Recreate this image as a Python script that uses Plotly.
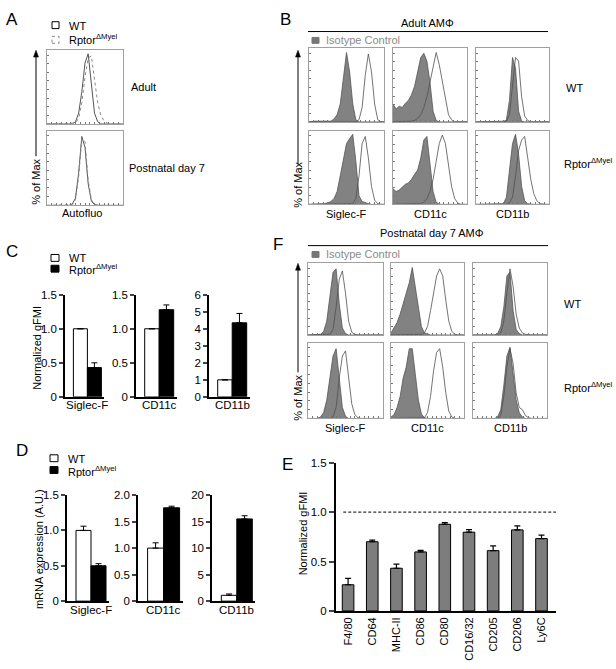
import plotly.graph_objects as go

W, H = 616, 669

# ---------------- DATA ----------------
BINS = list(range(25))  # histogram bin index (log-fluorescence scale)

# Panel A: autofluorescence histograms (% of max)
A_adult_wt = [0,0,0,0,0,0,0,0,0,3,15,45,85,98,60,15,3,0,0,0,0,0,0,0,0]
A_adult_ko = [0,0,0,0,0,0,0,0,0,1,8,30,65,92,95,60,30,12,4,1,0,0,0,0,0]
A_p7_wt    = [0,0,0,0,0,0,0,0,2,10,45,95,80,30,6,1,0,0,0,0,0,0,0,0,0]
A_p7_ko    = [0,0,0,0,0,0,0,0,1,8,40,92,88,35,8,1,0,0,0,0,0,0,0,0,0]

# Panel B: adult AM (isotype = filled, antibody = open)
B_wt_sig_iso = [0,1,1,1,1,0,0,1,4,10,25,60,97,70,25,3,0,0,0,0,0,0,0,0,0]
B_wt_sig_ab  = [0,0,0,0,0,0,0,0,0,0,0,0,0,0,0,0,3,20,65,95,70,25,3,0,0]
B_wt_11c_iso = [25,18,22,20,26,30,38,50,70,90,96,85,55,15,2,0,0,0,0,0,0,0,0,0,0]
B_wt_11c_ab  = [0,0,0,0,0,0,1,2,5,10,20,35,55,80,97,80,55,30,10,3,0,0,0,0,0]
B_wt_11b_iso = [0,0,0,0,0,0,0,0,0,0,3,30,90,75,15,1,0,0,0,0,0,0,0,0,0]
B_wt_11b_ab  = [0,0,0,0,0,0,0,0,0,0,1,10,55,90,85,35,8,2,0,0,0,0,0,0,0]
B_ko_sig_iso = [0,0,1,1,0,1,2,4,8,18,40,62,85,92,98,60,12,4,2,1,0,0,0,0,0]
B_ko_sig_ab  = [0,0,0,0,0,0,0,0,0,0,0,0,0,0,1,8,40,85,95,65,25,6,1,0,0]
B_ko_11c_iso = [22,18,20,24,28,30,35,42,48,65,90,95,60,18,3,0,0,0,0,0,0,0,0,0,0]
B_ko_11c_ab  = [0,0,0,0,0,0,0,0,0,1,3,8,18,35,60,85,97,85,55,25,8,2,0,0,0]
B_ko_11b_iso = [0,0,0,0,0,0,0,0,0,1,10,45,85,98,70,25,5,1,0,0,0,0,0,0,0]
B_ko_11b_ab  = [0,0,0,0,0,0,0,0,0,0,0,2,10,40,75,90,95,65,35,15,5,1,0,0,0]

# Panel F: postnatal day 7 AM
F_wt_sig_iso = [0,0,0,0,1,5,20,55,90,95,45,10,2,0,0,0,0,0,0,0,0,0,0,0,0]
F_wt_sig_ab  = [0,0,0,0,0,0,0,1,8,40,80,92,60,20,4,1,0,0,0,0,0,0,0,0,0]
F_wt_11c_iso = [3,10,18,30,45,58,75,97,70,40,12,3,1,0,0,0,0,0,0,0,0,0,0,0,0]
F_wt_11c_ab  = [0,0,0,0,0,0,0,0,0,0,1,3,12,35,60,85,95,85,50,20,5,1,0,0,0]
F_wt_11b_iso = [0,0,0,0,0,0,0,0,2,12,40,85,90,35,8,2,0,0,0,0,0,0,0,0,0]
F_wt_11b_ab  = [0,0,0,0,0,0,0,0,0,3,20,60,95,70,30,10,3,1,0,0,0,0,0,0,0]
F_ko_sig_iso = [0,0,0,0,2,8,25,55,85,95,55,15,3,0,0,0,0,0,0,0,0,0,0,0,0]
F_ko_sig_ab  = [0,0,0,0,0,0,0,0,2,15,55,85,92,55,20,5,1,0,0,0,0,0,0,0,0]
F_ko_11c_iso = [2,5,15,30,55,70,95,95,60,25,6,1,0,0,0,0,0,0,0,0,0,0,0,0,0]
F_ko_11c_ab  = [0,0,0,0,0,0,0,0,0,0,0,1,8,30,65,90,95,70,35,10,2,0,0,0,0]
F_ko_11b_iso = [0,0,0,0,0,0,0,0,2,12,45,85,97,60,25,8,2,0,0,0,0,0,0,0,0]
F_ko_11b_ab  = [0,0,0,0,0,0,0,0,0,5,30,70,95,75,35,15,12,4,1,0,0,0,0,0,0]

# Panel C: normalized gFMI
C_markers = ["Siglec-F", "CD11c", "CD11b"]
C_wt      = [1.0, 1.0, 1.0]
C_wt_err  = [0.0, 0.0, 0.0]
C_ko      = [0.43, 1.28, 4.35]
C_ko_err  = [0.07, 0.07, 0.55]

# Panel D: mRNA expression
D_markers = ["Siglec-F", "CD11c", "CD11b"]
D_wt      = [1.0, 1.0, 1.1]
D_wt_err  = [0.06, 0.10, 0.25]
D_ko      = [0.50, 1.76, 15.5]
D_ko_err  = [0.03, 0.03, 0.6]

# Panel E: normalized gFMI, postnatal day 7
E_markers = ["F4/80", "CD64", "MHC-II", "CD86", "CD80", "CD16/32", "CD205", "CD206", "Ly6C"]
E_vals    = [0.265, 0.70, 0.432, 0.597, 0.877, 0.797, 0.61, 0.82, 0.732]
E_err     = [0.065, 0.016, 0.042, 0.016, 0.017, 0.026, 0.048, 0.04, 0.036]

# ---------------- FIGURE ----------------
FS = 11
KO_LABEL = 'Rptor<sup>ΔMyel</sup>'

def px(x): return x / W
def py(y): return 1 - y / H

fig = go.Figure()
layout = dict(width=W, height=H, margin=dict(l=0, r=0, t=0, b=0),
              paper_bgcolor='white', plot_bgcolor='rgba(0,0,0,0)', showlegend=False,
              font=dict(family='Arial, Liberation Sans, sans-serif', size=FS, color='black'))
annotations, shapes = [], []
counter = [0]

def new_axes(x0, x1, y0, y1, xo, yo):
    counter[0] += 1
    n = counter[0]
    sx = '' if n == 1 else str(n)
    layout['xaxis' + sx] = dict(domain=[px(x0), px(x1)], anchor='y' + sx, **xo)
    layout['yaxis' + sx] = dict(domain=[py(y1), py(y0)], anchor='x' + sx, **yo)
    return 'x' + sx, 'y' + sx

def text(x, y, s, size=FS, xa='center', ya='middle', color='black', angle=0):
    annotations.append(dict(x=px(x), y=py(y), xref='paper', yref='paper', text=s,
                            showarrow=False, font=dict(size=size, color=color),
                            xanchor=xa, yanchor=ya, textangle=angle, borderpad=0))

def arrow(x, ytip, ytail):
    shapes.append(dict(type='line', xref='paper', yref='paper', x0=px(x), x1=px(x),
                       y0=py(ytail), y1=py(ytip + 5), line=dict(color='black', width=1)))
    path = 'M {:.5f} {:.5f} L {:.5f} {:.5f} L {:.5f} {:.5f} Z'.format(
        px(x - 2.5), py(ytip + 7), px(x), py(ytip), px(x + 2.5), py(ytip + 7))
    shapes.append(dict(type='path', xref='paper', yref='paper', path=path,
                       fillcolor='black', line=dict(color='black', width=0.5)))

def rect(x0, y0, x1, y1, fill='white', line='black', dash='solid', lw=1):
    shapes.append(dict(type='rect', xref='paper', yref='paper', x0=px(x0), x1=px(x1),
                       y0=py(y1), y1=py(y0), fillcolor=fill,
                       line=dict(color=line, width=lw, dash=dash)))

def hline(x0, x1, y, lw=1):
    shapes.append(dict(type='line', xref='paper', yref='paper', x0=px(x0), x1=px(x1),
                       y0=py(y), y1=py(y), line=dict(color='black', width=lw)))

HX = dict(range=[0, 24], showline=True, mirror=True, linecolor='#a0a0a0', linewidth=1,
          ticks='inside', ticklen=2, tickcolor='#777', dtick=1.5, showticklabels=False,
          showgrid=False, zeroline=False, fixedrange=True)
HY = dict(range=[0, 103], showline=True, mirror=True, linecolor='#a0a0a0', linewidth=1,
          ticks='inside', ticklen=2, tickcolor='#777', dtick=12, showticklabels=False,
          showgrid=False, zeroline=False, fixedrange=True)

def flow_panel(x0, x1, y0, y1, iso, ab):
    xr, yr = new_axes(x0, x1, y0, y1, HX, HY)
    fig.add_trace(go.Scatter(x=BINS, y=iso, xaxis=xr, yaxis=yr, mode='lines',
                             line=dict(color='#555', width=0.8), fill='tozeroy',
                             fillcolor='#828282', hoverinfo='skip'))
    fig.add_trace(go.Scatter(x=BINS, y=ab, xaxis=xr, yaxis=yr, mode='lines',
                             line=dict(color='#505050', width=0.8), hoverinfo='skip'))

# ---- Panel A
for (y0, y1), wt, ko in [((45, 120), A_adult_wt, A_adult_ko), ((127, 203), A_p7_wt, A_p7_ko)]:
    xr, yr = new_axes(47, 123, y0, y1, HX, HY)
    fig.add_trace(go.Scatter(x=BINS, y=wt, xaxis=xr, yaxis=yr, mode='lines',
                             line=dict(color='#555', width=1), hoverinfo='skip'))
    fig.add_trace(go.Scatter(x=BINS, y=ko, xaxis=xr, yaxis=yr, mode='lines',
                             line=dict(color='#888', width=1, dash='dot'), hoverinfo='skip'))
text(12, 14, 'A', size=17)
rect(52, 16, 59, 23)
text(68, 20, 'WT', xa='left')
rect(52, 31, 59, 38, line='#888', dash='dot')
text(68, 34, KO_LABEL, xa='left')
text(130, 82, 'Adult', xa='left')
text(128, 165, 'Postnatal day 7', xa='left')
text(82, 211, 'Autofluo')
text(36, 179, '% of Max', angle=-90)
arrow(36, 45, 153)

# ---- Panel B
B_cols = [(309, 384), (393, 467), (476, 549)]
B_rows = [(43, 118), (127, 202)]
B_data = [[(B_wt_sig_iso, B_wt_sig_ab), (B_wt_11c_iso, B_wt_11c_ab), (B_wt_11b_iso, B_wt_11b_ab)],
          [(B_ko_sig_iso, B_ko_sig_ab), (B_ko_11c_iso, B_ko_11c_ab), (B_ko_11b_iso, B_ko_11b_ab)]]
for ri, (y0, y1) in enumerate(B_rows):
    for ci, (x0, x1) in enumerate(B_cols):
        flow_panel(x0, x1, y0, y1, *B_data[ri][ci])
text(285, 14, 'B', size=17)
text(427, 17, 'Adult AMΦ')
hline(308, 548, 26)
rect(312, 32, 319, 38, fill='#777', line='#777')
text(325, 35, 'Isotype Control', xa='left', color='#8a8a8a')
for (x0, x1), lab in zip(B_cols, ['Siglec-F', 'CD11c', 'CD11b']):
    text((x0 + x1) / 2, 212, lab)
text(565, 83, 'WT', xa='left')
text(563, 160, KO_LABEL, xa='left')
text(298, 182, '% of Max', angle=-90)
arrow(298, 45, 161)

# ---- Panel F
F_cols = [(308, 383), (391, 464), (473, 547)]
F_rows = [(262, 335), (343, 420)]
F_data = [[(F_wt_sig_iso, F_wt_sig_ab), (F_wt_11c_iso, F_wt_11c_ab), (F_wt_11b_iso, F_wt_11b_ab)],
          [(F_ko_sig_iso, F_ko_sig_ab), (F_ko_11c_iso, F_ko_11c_ab), (F_ko_11b_iso, F_ko_11b_ab)]]
for ri, (y0, y1) in enumerate(F_rows):
    for ci, (x0, x1) in enumerate(F_cols):
        flow_panel(x0, x1, y0, y1, *F_data[ri][ci])
text(278, 243, 'F', size=17)
text(432, 231, 'Postnatal day 7 AMΦ')
hline(308, 548, 244)
rect(312, 250, 319, 256, fill='#777', line='#777')
text(325, 253, 'Isotype Control', xa='left', color='#8a8a8a')
for (x0, x1), lab in zip(F_cols, ['Siglec-F', 'CD11c', 'CD11b']):
    text((x0 + x1) / 2, 430, lab)
text(563, 303, 'WT', xa='left')
text(563, 388, KO_LABEL, xa='left')
text(298, 399, '% of Max', angle=-90)
arrow(298, 262, 373)

# ---- Bar panels C and D
def bar_panel(axx, bw, ytop, ybot, ymax, tv, tt, wt, wte, ko, koe, label, ly):
    xr, yr = new_axes(axx, axx + 2.8 * bw, ytop, ybot,
                      dict(range=[-1.1, 1.7], showline=True, linecolor='black', linewidth=1.5,
                           ticks='', showticklabels=False, showgrid=False, zeroline=False,
                           fixedrange=True),
                      dict(range=[0, ymax], tickvals=tv, ticktext=tt, showline=True,
                           linecolor='black', linewidth=1.5, ticks='outside', ticklen=4,
                           tickwidth=1.5, showgrid=False, zeroline=False, fixedrange=True,
                           tickfont=dict(size=11.5)))
    fig.add_trace(go.Bar(x=[0, 1], y=[wt, ko], width=1, xaxis=xr, yaxis=yr,
                         marker=dict(color=['white', 'black'], line=dict(color='black', width=1)),
                         error_y=dict(type='data', symmetric=False, array=[wte, koe],
                                      arrayminus=[0, 0], color='black', thickness=1, width=3),
                         hoverinfo='skip'))
    text(axx + 0.6 * bw + bw, ly, label, size=11.5)

t15 = ([0, 0.5, 1.0, 1.5], ['0', '0.5', '1.0', '1.5'])
C_geom = [(65, 14, 1.5, t15), (136, 14.5, 1.5, t15),
          (209, 14.5, 6, ([0, 1, 2, 3, 4, 5, 6], ['0', '1', '2', '3', '4', '5', '6']))]
for i, (axx, bw, ymax, (tv, tt)) in enumerate(C_geom):
    bar_panel(axx, bw, 294, 398, ymax, tv, tt, C_wt[i], C_wt_err[i], C_ko[i], C_ko_err[i],
              C_markers[i], 406)
text(12, 250, 'C', size=17)
rect(51, 253, 59, 260)
text(68, 257, 'WT', xa='left')
rect(51, 264, 59, 271, fill='black')
text(68, 268, KO_LABEL, xa='left')
text(37, 348, 'Normalized gFMI', angle=-90)

D_geom = [(67, 15, 1.5, t15),
          (138, 16, 2.0, ([0, 0.5, 1.0, 1.5, 2.0], ['0', '0.5', '1.0', '1.5', '2.0'])),
          (212, 15.5, 20, ([0, 5, 10, 15, 20], ['0', '5', '10', '15', '20']))]
for i, (axx, bw, ymax, (tv, tt)) in enumerate(D_geom):
    bar_panel(axx, bw, 498, 606, ymax, tv, tt, D_wt[i], D_wt_err[i], D_ko[i], D_ko_err[i],
              D_markers[i], 615)
text(22, 453, 'D', size=17)
rect(50, 457, 58, 464)
text(67, 461, 'WT', xa='left')
rect(50, 469, 58, 476, fill='black')
text(67, 473, KO_LABEL, xa='left')
text(39, 553, 'mRNA expression (A.U.)', angle=-90)

# ---- Panel E
xr, yr = new_axes(336, 556, 465, 616,
                  dict(type='category', range=[-0.5, 8.6], showline=True, linecolor='black',
                       linewidth=2, ticks='', tickangle=-90, tickfont=dict(size=11),
                       showgrid=False, zeroline=False, fixedrange=True),
                  dict(range=[0, 1.5], tickvals=[0, 0.5, 1.0, 1.5], ticktext=['0', '0.5', '1.0', '1.5'],
                       showline=True, linecolor='black', linewidth=2, ticks='outside',
                       ticklen=5, tickwidth=2, showgrid=False, zeroline=False, fixedrange=True,
                       tickfont=dict(size=11.5)))
fig.add_trace(go.Bar(x=E_markers, y=E_vals, width=0.48, xaxis=xr, yaxis=yr,
                     marker=dict(color='#7d7d7d', line=dict(color='black', width=1)),
                     error_y=dict(type='data', symmetric=False, array=E_err,
                                  arrayminus=[0] * len(E_err), color='black', thickness=1.2, width=3),
                     hoverinfo='skip'))
shapes.append(dict(type='line', xref=xr, yref=yr, x0=-0.2, x1=8.6, y0=1.0, y1=1.0,
                   line=dict(color='#333', width=1.2, dash='3px,2px')))
text(287, 467, 'E', size=17)
text(303, 537, 'Normalized gFMI', angle=-90)

layout['annotations'] = annotations
layout['shapes'] = shapes
fig.update_layout(**layout)
fig.write_html("out.html", config={'displayModeBar': False},
               post_script="document.body.style.margin='0';document.body.style.overflow='hidden';")
